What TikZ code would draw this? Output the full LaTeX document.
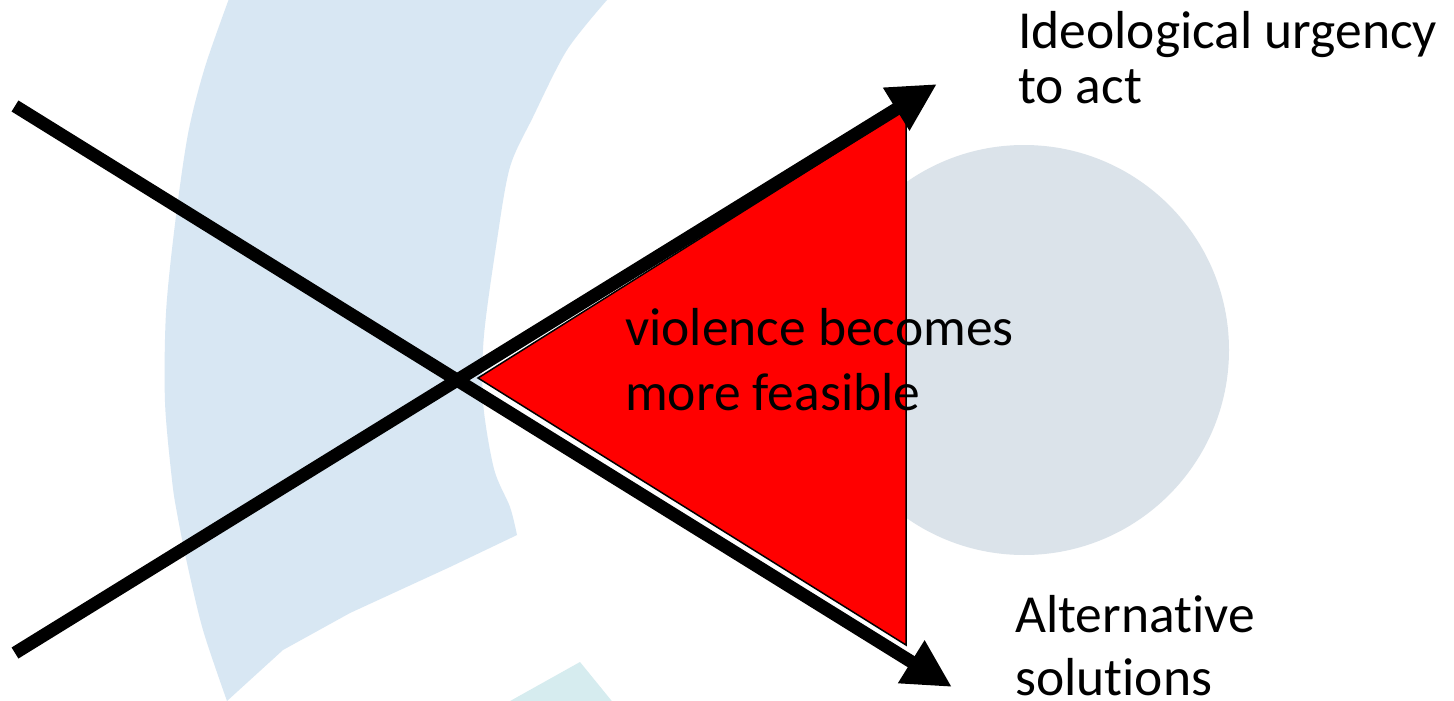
\documentclass[tikz,border=0pt]{standalone}
\usepackage{fontspec}
\setmainfont{Carlito}[Ligatures=NoCommon]
\usetikzlibrary{arrows.meta}
\definecolor{wmblue}{HTML}{D8E7F3}
\definecolor{wmgrey}{HTML}{DBE3EA}
\definecolor{wmteal}{HTML}{D6ECEF}
\definecolor{hot}{HTML}{FF0000}

\begin{document}
\begin{tikzpicture}[
  x=1pt,y=-1pt,
  lbl/.style={font=\fontsize{53.5}{63}\selectfont,align=left,inner sep=0pt,anchor=base west},
  force/.style={-{Triangle[length=48pt,width=47pt]},line width=13pt,draw=black},
  zone/.style={fill=hot,draw=black,line width=1.5pt,line join=miter}
]
\fill[white] (0,0) rectangle (1454,701);
\useasboundingbox (0,0) rectangle (1454,701);
% watermark
\fill[wmblue] plot[smooth] coordinates {(227,701) (203,630) (187,563) (177,513) (172,480) (165,402) (166,313) (175,224) (188,134) (205,67) (230,-4)}
  -- (609,-4)
  -- plot[smooth] coordinates {(607,0) (567,50) (533,117) (510,167) (497,240) (484,335) (483,402) (494,469) (510,507) (517,535)}
  -- (450,567) -- (350,613) -- (283,650) -- cycle;
\fill[wmteal] (503,705) -- (580,662) -- (615,705) -- cycle;
\fill[wmgrey] (1024,350) circle (205);

\coordinate (apex) at (478,378);
\coordinate (zoneTop) at (906,109);
\coordinate (zoneBot) at (906,645);
\draw[zone] (apex) -- (zoneTop) -- (zoneBot) -- cycle;

\coordinate (urgStart) at (15,653);
\coordinate (urgTip) at (937,84);
\coordinate (altStart) at (15,106);
\coordinate (altTip) at (952,687);
\draw[force] (altStart) -- (altTip);
\draw[force] (urgStart) -- (urgTip);

\node[lbl,font=\fontsize{53.5}{55}\selectfont] (urgency) at (1018,103) {Ideological urgency\\to act};
\node[lbl,font=\fontsize{53.5}{65}\selectfont] (feasible) at (625,410) {violence becomes\\more feasible};
\node[lbl] (alternatives) at (1015,695) {Alternative\\solutions};
\end{tikzpicture}
\end{document}
